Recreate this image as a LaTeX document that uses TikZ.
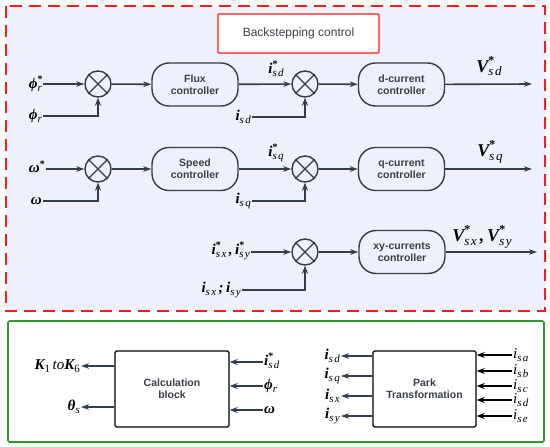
\documentclass[tikz,border=0pt]{standalone}
\usepackage{fontspec}
\setsansfont{Liberation Sans}
\newfontfamily\mf{Liberation Serif}
\newfontfamily\msub{Liberation Serif}[LetterSpace=12]
\usetikzlibrary{arrows.meta,calc}
\definecolor{lc}{HTML}{333D4B}
\definecolor{tc}{HTML}{3A3F48}
\definecolor{bgl}{HTML}{EEF0FC}
\definecolor{rd}{HTML}{FF1A1A}
\definecolor{gr}{HTML}{2E9A2E}
\newcommand{\bi}{\mf\bfseries\itshape}
% base, subscript, superscript (text size 15)
\newcommand{\ml}[3]{{\bi #1}\rlap{\raisebox{6.5pt}{\fontsize{10}{10}\selectfont\mf\bfseries #3}}\raisebox{-3pt}{\fontsize{11}{11}\selectfont\msub\itshape #2}}
% larger (text size 18)
\newcommand{\mv}[3]{{\bi #1}\rlap{\raisebox{8pt}{\fontsize{12}{12}\selectfont\mf\bfseries #3}}\raisebox{-3.5pt}{\fontsize{13}{13}\selectfont\msub\itshape #2}}
\tikzset{
  ctrl/.style={draw=lc,line width=1.4pt,rounded corners=17pt,minimum width=86pt,minimum height=43pt,align=center,font=\sffamily\bfseries\fontsize{10.5}{12}\selectfont,text=tc,inner sep=1pt},
  blk/.style={draw=black,line width=1.4pt,rounded corners=1.5pt,align=center,font=\sffamily\bfseries\fontsize{10.5}{12}\selectfont,text=tc},
  sumnode/.style={draw=lc,line width=1.4pt,circle,minimum size=26pt,inner sep=0pt},
  lab/.style={inner sep=1pt,font=\fontsize{15}{17}\selectfont,text=black},
  vlab/.style={inner sep=1pt,font=\fontsize{18}{20}\selectfont,text=black},
  arr/.style={draw=lc,line width=1.6pt,-{Stealth[length=8pt,width=5.5pt]}},
  arrb/.style={draw=lc,line width=1.9pt,-{Stealth[length=8pt,width=6pt]}},
}
\begin{document}
\begin{tikzpicture}[x=1pt,y=-1pt]
\useasboundingbox (0,0) rectangle (550,447);
% red dashed backstepping region
\path[fill=bgl] (6,6) rectangle (545,311);
\draw[rd,line width=2.4pt,dash pattern=on 12pt off 7pt] (6,6) rectangle (545,311);
\node[draw=rd,line width=1.2pt,fill=white,minimum width=161pt,minimum height=39pt,rounded corners=1pt,font=\sffamily\fontsize{12}{14}\selectfont,text=tc] (title) at (298.5,33.5) {Backstepping control};
% green region
\draw[gr,line width=1.6pt,rounded corners=1.5pt] (8,321) rectangle (544,442);

% Row 1
\node[sumnode] (s1) at (98,84) {};
\node[sumnode] (s2) at (305,84) {};
\node[ctrl] (flux) at (195,84.5) {Flux\\controller};
\node[ctrl] (dcur) at (401.5,84.5) {d-current\\controller};
\node[lab,anchor=east] (phirs) at (43,84) {\ml{ϕ}{r}{*}};
\node[lab,anchor=east] (phir) at (43,116) {\ml{ϕ}{r}{}};
\node[lab] (isds) at (276,69) {\ml{i}{sd}{*}};
\node[lab,anchor=east] (isd) at (252,117) {\ml{i}{sd}{}};
\coordinate (o1) at (532,84);
\node[vlab] (vsd) at (489,66) {\mv{V}{sd}{*}};
\draw[arr] (phirs) -- (s1);
\draw[arrb] (phir) -| (s1.south);
\draw[arr] (s1) -- (flux);
\draw[arr] (flux) -- (s2);
\draw[arrb] (isd) -| (s2.south);
\draw[arr] (s2) -- (dcur);
\draw[arr] (dcur) -- (o1);

% Row 2
\node[sumnode] (s3) at (98,169) {};
\node[sumnode] (s4) at (305,169) {};
\node[ctrl] (speed) at (195,169) {Speed\\controller};
\node[ctrl] (qcur) at (401.5,169) {q-current\\controller};
\node[lab,anchor=east] (ws) at (46,167) {{\bi ω}\raisebox{4.5pt}{\fontsize{10}{10}\selectfont\mf\bfseries *}};
\node[lab,anchor=east] (w) at (43,201) {{\bi ω}};
\node[lab] (isqs) at (276,153) {\ml{i}{sq}{*}};
\node[lab,anchor=east] (isq) at (252,201) {\ml{i}{sq}{}};
\coordinate (o2) at (532,169);
\node[vlab] (vsq) at (490,152) {\mv{V}{sq}{*}};
\draw[arr] (ws.east |- s3) -- (s3);
\draw[arrb] (w) -| (s3.south);
\draw[arr] (s3) -- (speed);
\draw[arr] (speed) -- (s4);
\draw[arrb] (isq) -| (s4.south);
\draw[arr] (s4) -- (qcur);
\draw[arr] (qcur) -- (o2);

% Row 3
\node[sumnode] (s5) at (305,252) {};
\node[ctrl] (xycur) at (402,252) {xy-currents\\controller};
\node[lab,anchor=east] (ixys) at (251,251) {\ml{i}{sx}{*}{\bi\,,\,}\ml{i}{sy}{*}};
\node[lab,anchor=east] (ixy) at (242,290) {\ml{i}{sx}{}{\bi\,;\,}\ml{i}{sy}{}};
\coordinate (o3) at (537,252);
\node[vlab] (vxy) at (482,237) {\mv{V}{sx}{*}{\bi\,,\,}\mv{V}{sy}{*}};
\draw[arr] (ixys.east |- s5) -- (s5);
\draw[arrb] (ixy) -| (s5.south);
\draw[arr] (s5) -- (xycur);
\draw[arr] (xycur) -- (o3);

% cross marks in summing junctions
\foreach \s in {s1,s2,s3,s4,s5}{
  \draw[lc,line width=1.4pt] (\s.north west) -- (\s.south east) (\s.north east) -- (\s.south west);
}

% Calculation block
\node[blk,minimum width=114pt,minimum height=76pt] (calc) at (172,389) {Calculation\\block};
\node[lab,anchor=east] (K) at (81,366) {{\bi K}\raisebox{-3pt}{\fontsize{11}{11}\selectfont\mf 1}\,{\mf\itshape to}{\bi K}\raisebox{-3pt}{\fontsize{11}{11}\selectfont\mf 6}};
\node[lab,anchor=east] (th) at (81,407) {\ml{θ}{s}{}};
\node[lab,anchor=west] (ci1) at (263,361) {\ml{i}{sd}{*}};
\node[lab,anchor=west] (ci2) at (263,386) {\ml{ϕ}{r}{}};
\node[lab,anchor=west] (ci3) at (263,410) {{\bi ω}};
\draw[arr] (calc.west |- K) -- (K);
\draw[arr] (calc.west |- th) -- (th);
\draw[arrb] (ci1.west |- 0,362) -- (calc.east |- 0,362);
\draw[arrb] (ci2.west |- 0,386) -- (calc.east |- 0,386);
\draw[arrb] (ci3.west |- 0,410) -- (calc.east |- 0,410);

% Park block
\node[blk,minimum width=103pt,minimum height=76pt] (park) at (424.5,389) {Park\\Transformation};
\foreach \n/\y/\t in {po1/356/sd,po2/376/sq,po3/396/sx,po4/416/sy}{
  \node[lab,anchor=east] (\n) at (341,\y) {\ml{i}{\t}{}};
  \draw[arr] (park.west |- \n) -- (\n);
}
\foreach \n/\y/\t in {pi1/355/sa,pi2/371/sb,pi3/386/sc,pi4/400/sd,pi5/416/se}{
  \node[lab,anchor=west] (\n) at (512,\y) {{\mf\itshape i}\raisebox{-3pt}{\fontsize{11}{11}\selectfont\msub\itshape \t}};
  \draw[arrb,draw=black] (\n) -- (park.east |- \n);
}
\end{tikzpicture}
\end{document}
